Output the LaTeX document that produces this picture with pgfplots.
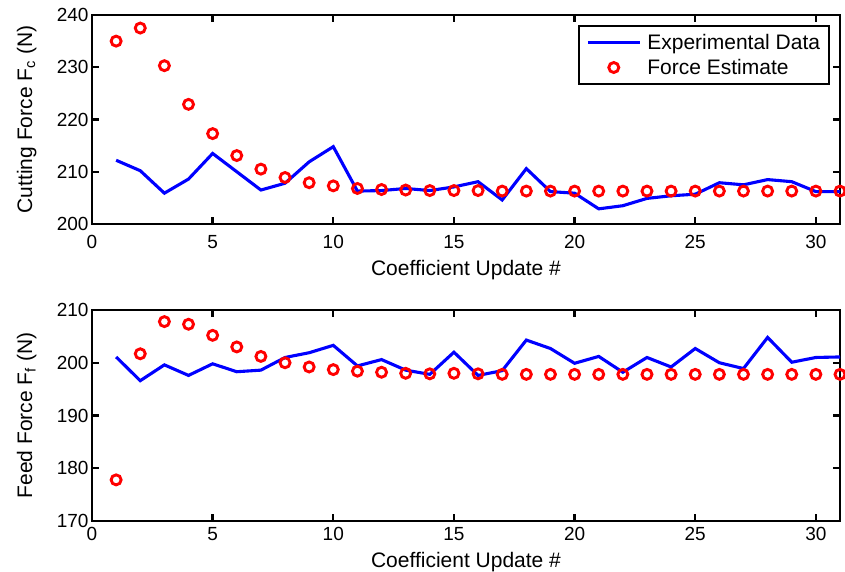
\documentclass[border=0pt]{standalone}
\usepackage{pgfplots}
\pgfplotsset{compat=1.18}
\usepackage{fontspec}
\setmainfont{Liberation Sans}
\definecolor{mblue}{RGB}{0,0,255}
\definecolor{mred}{RGB}{255,0,0}
\pgfplotsset{
  mystyle/.style={
    scale only axis, width=748pt,
    xmin=0, xmax=31, xtick={0,5,...,30},
    tick align=inside, major tick length=7pt,
    axis line style={line width=2.6pt}, every tick/.style={line width=2.4pt, black},
    /pgf/number format/assume math mode=true,
    tick label style={font=\fontsize{19}{22}\selectfont},
    every axis x label/.style={at={(axis description cs:0.5,-0.175)}, anchor=north, inner sep=0pt, font=\fontsize{21}{24}\selectfont},
    every axis y label/.style={at={(axis description cs:-0.0802,0.5)}, rotate=90, anchor=base, inner sep=0pt, font=\fontsize{21}{24}\selectfont},
    xlabel={Coefficient Update \#},
  },
  expline/.style={mblue, line width=3.1pt, mark=none},
  estmark/.style={mred, only marks, mark=o, mark size=5pt, mark options={line width=2.9pt, mred}},
  linelegend/.style={legend image code/.code={\draw[##1] (0pt,0pt) -- (52pt,0pt); \path (56pt,0pt);}},
  marklegend/.style={legend image code/.code={\draw[mark repeat=2,mark phase=2,##1] plot coordinates {(0pt,0pt) (26pt,0pt) (52pt,0pt)}; \path (56pt,0pt);}},
}
\begin{document}
\begin{tikzpicture}
\useasboundingbox (0,0) rectangle (845pt,571pt);
\begin{axis}[mystyle, height=209pt, at={(92pt,347pt)}, anchor=south west,
  xticklabel style={yshift=-8pt},
  ymin=200, ymax=240, ytick={200,210,...,240},
  ylabel={Cutting Force F\textsubscript{c} (N)},
  legend style={at={(axis description cs:0.9866,0.952)}, anchor=north east,
    draw=black, line width=1.8pt, fill=white, font=\fontsize{21}{24}\selectfont,
    inner xsep=7pt, inner ysep=6pt, row sep=4.5pt},
  legend cell align=left,
]
\addplot[expline, linelegend] coordinates {
(1,212.2) (2,210.2) (3,205.9) (4,208.6) (5,213.5) (6,210.0) (7,206.5) (8,207.8) (9,211.9) (10,214.8)
(11,206.3) (12,206.4) (13,206.8) (14,206.4) (15,207.1) (16,208.1) (17,204.6) (18,210.6) (19,206.2) (20,205.9)
(21,202.9) (22,203.5) (23,204.9) (24,205.4) (25,205.7) (26,207.9) (27,207.5) (28,208.5) (29,208.1) (30,206.2) (31,206.2)
};
\addlegendentry{Experimental Data}
\addplot[estmark, marklegend] coordinates {
(1,235.0) (2,237.5) (3,230.3) (4,222.9) (5,217.3) (6,213.1) (7,210.5) (8,208.9) (9,207.9) (10,207.3)
(11,206.8) (12,206.6) (13,206.5) (14,206.4) (15,206.4) (16,206.4) (17,206.3) (18,206.3) (19,206.3) (20,206.3)
(21,206.3) (22,206.3) (23,206.3) (24,206.3) (25,206.3) (26,206.3) (27,206.3) (28,206.3) (29,206.3) (30,206.3) (31,206.3)
};
\addlegendentry{Force Estimate}
\end{axis}
\begin{axis}[mystyle, height=211pt, at={(92pt,50pt)}, anchor=south west,
  xticklabel style={yshift=-3pt},
  every axis x label/.append style={at={(axis description cs:0.5,-0.147)}},
  ymin=170, ymax=210, ytick={170,180,...,210},
  ylabel={Feed Force F\textsubscript{f} (N)},
]
\addplot[expline] coordinates {
(1,201.1) (2,196.6) (3,199.6) (4,197.6) (5,199.8) (6,198.3) (7,198.6) (8,201.0) (9,201.9) (10,203.3)
(11,199.4) (12,200.6) (13,198.6) (14,197.8) (15,202.0) (16,197.6) (17,198.5) (18,204.3) (19,202.7) (20,199.9)
(21,201.2) (22,198.2) (23,201.0) (24,199.2) (25,202.7) (26,200.0) (27,198.9) (28,204.8) (29,200.1) (30,201.0) (31,201.1)
};
\addplot[estmark] coordinates {
(1,177.8) (2,201.7) (3,207.8) (4,207.3) (5,205.2) (6,203.0) (7,201.2) (8,200.0) (9,199.2) (10,198.7)
(11,198.4) (12,198.2) (13,198.0) (14,197.9) (15,198.0) (16,197.9) (17,197.8) (18,197.8) (19,197.8) (20,197.8)
(21,197.8) (22,197.8) (23,197.8) (24,197.8) (25,197.8) (26,197.8) (27,197.8) (28,197.8) (29,197.8) (30,197.8) (31,197.8)
};
\end{axis}
\end{tikzpicture}
\end{document}
